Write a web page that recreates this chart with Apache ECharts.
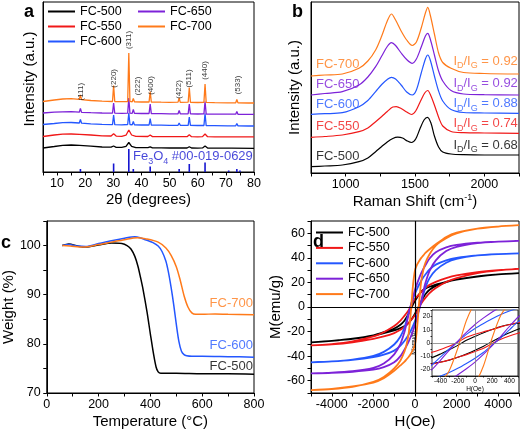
<!DOCTYPE html>
<html><head><meta charset="utf-8">
<script src="https://cdn.jsdelivr.net/npm/echarts@6/dist/echarts.min.js"></script>
<style>html,body{margin:0;padding:0;background:#fff}#c{width:522px;height:433px}</style>
</head><body><div id="c"></div>
<script>
// ---------- (a) XRD ----------
const xrdSharpX = [5, 9, 12, 15, 17.9, 18.3, 18.7, 22, 26, 29.7, 30.1, 30.5, 33, 35.1, 35.5, 35.9, 36.7, 37.1, 37.5, 40, 42.7, 43.1, 43.5, 47, 50, 53.0, 53.4, 53.8, 56.6, 57.0, 57.4, 60, 62.2, 62.6, 63.0, 66, 70.6, 71, 71.4, 73.5, 73.9, 74.3, 78, 80];
const xrd700 = [70.5, 72, 73, 73.3, 72.6, 77, 72.4, 71.5, 70.8, 70.5, 86.5, 70.5, 70.3, 70.5, 119, 70.6, 70.2, 73.5, 70.2, 70, 70, 80.5, 70, 69.8, 69.7, 69.8, 74, 69.7, 69.8, 84.5, 69.7, 69.5, 69.7, 88, 69.6, 69.3, 69.2, 71, 69.2, 69.2, 72.5, 69.1, 69, 69];
const xrd650 = [59, 59.8, 60.2, 60.3, 59.8, 63.5, 59.6, 59.3, 59, 58.8, 69, 58.8, 58.7, 58.9, 74, 58.9, 58.6, 62.5, 58.6, 58.5, 58.5, 68, 58.4, 58.3, 58.2, 58.2, 61.5, 58.2, 58.2, 68, 58.1, 58, 58.1, 70.5, 58, 57.9, 57.8, 59, 57.8, 57.8, 60.5, 57.7, 57.6, 57.6];
const xrd600 = [47.5, 48.5, 49.3, 49.5, 49, 52.5, 48.8, 48.2, 47.6, 47.4, 57, 47.4, 47.2, 47.5, 59, 47.5, 47.1, 50.5, 47.1, 47, 47, 53.5, 46.9, 46.8, 46.7, 46.7, 49, 46.7, 46.6, 55, 46.6, 46.5, 46.5, 58.5, 46.4, 46.3, 46.2, 47, 46.2, 46.2, 48.5, 46.1, 46, 46];
const xrdBroadX = [5, 9, 12, 15, 18, 22, 26, 29.2, 30.1, 31, 33, 34.5, 35.5, 36.5, 38, 42.3, 43.1, 43.9, 47, 50, 56.2, 57.0, 57.8, 60, 61.7, 62.6, 63.5, 66, 72, 80];
const xrd550 = [35.5, 37, 37.8, 38, 37.7, 37, 36.2, 36, 38.2, 35.9, 35.7, 36.8, 42, 37, 35.6, 35.5, 37, 35.4, 35.3, 35.3, 35.3, 37.2, 35.3, 35.2, 35.4, 38, 35.3, 35.2, 35.2, 35.2];
const xrd500 = [24, 25.5, 26.7, 27, 26.6, 25.8, 25, 24.8, 26, 24.7, 24.6, 25.7, 29.5, 25.7, 24.4, 24.3, 25.2, 24.2, 24.1, 24, 24, 25.3, 24, 23.9, 24.1, 26, 24, 23.9, 23.8, 23.7];
const refPos = [18.3, 30.1, 35.5, 37.1, 43.1, 53.4, 57.0, 62.6, 71.0, 73.9, 75.0];
const refInt = [3, 8.5, 23, 3, 5.5, 3, 8, 9.5, 1.5, 3, 1.5];
const hklNames = ['(111)', '(220)', '(311)', '(222)', '(400)', '(422)', '(511)', '(440)', '(533)'];
const hklX = [18.3, 30.1, 35.5, 38.7, 43.3, 53.1, 57.0, 62.4, 74.1];
const hklY = [80.3, 93.7, 132, 86, 86.5, 82.5, 93.5, 101.5, 87];

// ---------- (b) Raman ----------
const ramX500 = [750, 850, 976, 1096, 1160, 1216, 1260, 1300, 1340, 1375, 1410, 1445, 1475, 1505, 1535, 1565, 1590, 1615, 1640, 1670, 1700, 1760, 1850, 2000, 2250];
const ram500 = [6.3, 7, 8, 11.3, 15, 21.3, 26.5, 31, 34.5, 35.8, 35, 32, 30.5, 34, 44, 53, 55.7, 50, 37, 26, 21, 19, 18.3, 18, 18];
const ramX550 = [750, 850, 976, 1096, 1160, 1216, 1260, 1300, 1340, 1365, 1400, 1440, 1475, 1505, 1540, 1570, 1592, 1615, 1645, 1675, 1700, 1760, 1850, 2000, 2250];
const ram550 = [35.7, 36.5, 38, 41.3, 45, 51.3, 56.5, 61.5, 66, 66.3, 64.5, 61, 58.5, 62, 72, 80, 82.5, 77, 66, 54, 47, 41.5, 40.3, 40, 39.7];
const ramX = [750, 850, 976, 1096, 1160, 1216, 1260, 1300, 1330, 1360, 1400, 1440, 1480, 1510, 1545, 1575, 1592, 1610, 1640, 1670, 1700, 1760, 1850, 2000, 2250];
const ram600 = [58.7, 59.3, 60.3, 66.3, 72.5, 81.3, 88.5, 93.5, 95.7, 94, 88, 81, 78, 83, 100, 114, 118, 113, 97, 82, 72, 63.5, 60.5, 60, 59.7];
const ram650 = [78, 79.5, 81.3, 88, 96, 106.3, 117, 126.5, 130.3, 127.5, 120, 113.5, 109.7, 114, 126, 137, 139.7, 134, 118, 102, 92, 82.5, 79, 78.3, 78];
const ram700 = [97, 98, 99, 104.7, 112, 123, 137, 152, 159, 153, 142, 133, 127.5, 131, 145, 160, 165.7, 158, 139, 120, 110.5, 104.8, 100.5, 99.5, 99];
const ramanNames = ['FC-700', 'FC-650', 'FC-600', 'FC-550', 'FC-500'];
const ratios = ['0.92', '0.92', '0.88', '0.74', '0.68'];

// ---------- (c) TGA ----------
const tgaT500 = [60, 85, 120, 150, 200, 250, 290, 310, 325, 340, 352, 362, 372, 387, 400, 412, 422, 430, 440, 500, 600, 700, 800];
const tga500 = [100, 100.3, 99.9, 99.7, 100.1, 100.5, 100.4, 100, 99.3, 97.8, 95.8, 93.5, 91, 86.5, 82, 78, 75.3, 74.3, 74.0, 74, 73.9, 73.9, 73.8];
const tgaT600 = [60, 85, 120, 150, 200, 250, 300, 340, 360, 380, 410, 430, 445, 460, 470, 480, 490, 500, 510, 520, 530, 540, 560, 600, 700, 800];
const tga600 = [100, 100.2, 99.9, 99.8, 100.4, 101, 101.5, 101.8, 101.6, 101.2, 100.6, 99.9, 98.8, 96.8, 94.5, 91.5, 88, 84, 80.5, 78.5, 77.8, 77.6, 77.5, 77.5, 77.4, 77.3];
const tgaT700 = [60, 90, 140, 200, 250, 300, 350, 380, 430, 460, 480, 500, 515, 530, 545, 560, 575, 600, 650, 700, 800];
const tga700 = [100, 99.9, 99.7, 100.2, 100.7, 101.2, 101.6, 101.4, 100.7, 99.5, 98, 95.7, 93, 89.8, 87.5, 86.3, 86, 86, 86.1, 86, 85.9];
const tgaNames = ['FC-700', 'FC-600', 'FC-500'];

// ---------- (d) VSM ----------
const fieldH = [-5000, -4000, -3000, -2000, -1500, -1000, -700, -500, -400, -300, -200, -100, 0, 100, 200, 300, 400, 500, 700, 1000, 1500, 2000, 3000, 4000, 5000];
const up500 = [-28.8, -27.6, -25.8, -23, -20.5, -17.5, -14.5, -11, -8.3, -5.2, -1.8, 2, 5, 7.8, 10.3, 12.5, 14, 15, 16.5, 18.3, 20.5, 22.5, 25, 26.5, 27.5];
const lo500 = [-28.8, -27.6, -26, -23.3, -21.3, -19, -17.2, -15.5, -14.4, -13, -10.8, -8.3, -5.5, -2.4, 1.2, 4.6, 7.7, 10.4, 14, 17.2, 20.3, 22.3, 24.8, 26.5, 27.5];
const up550 = [-31.3, -30.2, -28, -24, -20.5, -15.5, -11, -7, -4.9, -2.5, 0.6, 4.3, 6.7, 8.5, 10.2, 12.2, 14, 15.5, 18, 20.5, 23.5, 25.7, 28.4, 30, 31];
const lo550 = [-31.3, -30.5, -28.8, -26, -24, -21.2, -18.6, -16, -14.6, -12.8, -10.8, -8.8, -6.5, -4, -0.4, 2.8, 5.3, 7.4, 11.3, 15.5, 20.3, 23.5, 27.5, 29.8, 31];
const up600 = [-45, -44.3, -42.8, -39.8, -36.5, -30.5, -24, -16.5, -10.5, -4.5, 1, 6.5, 11, 14.8, 18.3, 21.5, 24.2, 26.5, 30.5, 34.5, 38, 40, 42, 43.1, 43.7];
const lo600 = [-45, -44.3, -43, -40.8, -38.8, -35.5, -31.5, -27.5, -25, -22.3, -19.2, -15.5, -11.5, -7, -1.5, 4, 10, 16, 23.5, 30, 36, 39.2, 42, 43.1, 43.7];
const up650 = [-54, -53.5, -52.3, -49.5, -46, -38.5, -30, -20, -13, -5.5, 1.5, 8, 14, 19, 23.5, 27.5, 31, 34, 39.5, 44.5, 48.5, 50.5, 52.3, 53.2, 53.8];
const lo650 = [-54, -53.5, -52.7, -51, -49, -45, -40, -34.5, -31.5, -28, -24, -19.5, -14.5, -8.5, -2, 5, 12.5, 19.5, 29.5, 38, 45.5, 49, 52, 53.2, 53.8];
const up700 = [-67.6, -66.8, -65, -61, -57, -50, -43.5, -36, -30, -21, -4, 17, 30, 34.5, 37.5, 40, 42, 44, 47, 51, 57, 60.5, 63.8, 65.5, 66.6];
const lo700 = [-67.6, -66.6, -64.6, -61.5, -58, -52, -47.5, -44.5, -42.5, -40.5, -38, -35, -30.5, -17, 4, 21, 30, 36, 43, 50, 56, 60, 63.8, 65.5, 66.6];

// ---------- styling ----------
const FONT = '"Liberation Sans", Arial, Helvetica, sans-serif';
const COL = {'FC-500': '#000000', 'FC-550': '#f01818', 'FC-600': '#2457ff', 'FC-650': '#7d22d8', 'FC-700': '#ff7a1a'};
const REFCOL = '#1616d0';

function pairs(xs, ys) { return xs.map((x, i) => [x, ys[i]]); }
function lineS(name, data, gi, width, smooth, extra) {
  return Object.assign({
    type: 'line', name, xAxisIndex: gi, yAxisIndex: gi, data,
    showSymbol: false, symbol: 'none', color: COL[name],
    lineStyle: {color: COL[name], width}, smooth: smooth || false,
    silent: true, emphasis: {disabled: true}
  }, extra || {});
}
function loop(lo, up) {
  const a = pairs(fieldH, lo);
  const b = pairs(fieldH, up).reverse();
  return a.concat(b);
}
function txtS(gi, items, pos, fontSize, rich) {
  return {
    type: 'scatter', xAxisIndex: gi, yAxisIndex: gi, symbolSize: 0.1, silent: true,
    itemStyle: {color: 'transparent'}, emphasis: {disabled: true}, z: 5,
    data: items,
    label: {show: true, position: pos, distance: 0, fontFamily: FONT, fontSize, formatter: p => p.name, rich: rich || {}}
  };
}
function xAx(gi, min, max, interval, fmt, name, gap, extra) {
  return Object.assign({
    gridIndex: gi, type: 'value', min, max, interval,
    axisLine: {show: true, onZero: false, lineStyle: {color: '#000', width: 1}},
    axisTick: {show: true, length: 3.5, lineStyle: {color: '#000'}},
    axisLabel: {formatter: fmt, fontSize: 12.5, color: '#000', fontFamily: FONT, margin: 5},
    splitLine: {show: false},
    name, nameLocation: 'middle', nameGap: gap,
    nameTextStyle: {fontSize: 15, color: '#000', fontFamily: FONT}
  }, extra || {});
}
function yAx(gi, min, max, interval, fmt, name, gap, showTicks, extra) {
  return Object.assign({
    gridIndex: gi, type: 'value', min, max, interval,
    axisLine: {show: true, onZero: false, lineStyle: {color: '#000', width: 1}},
    axisTick: {show: showTicks, length: 3.5, lineStyle: {color: '#000'}},
    axisLabel: {show: showTicks, formatter: fmt, fontSize: 12.5, color: '#000', fontFamily: FONT, margin: 6},
    splitLine: {show: false},
    name, nameLocation: 'middle', nameGap: gap,
    nameTextStyle: {fontSize: 15, color: '#000', fontFamily: FONT}
  }, extra || {});
}
const gridBase = {show: true, borderColor: '#000', borderWidth: 1, backgroundColor: '#fff'};

const series = [];
// (a)
series.push({type: 'bar', name: 'ref', xAxisIndex: 0, yAxisIndex: 0, data: pairs(refPos, refInt), barWidth: 1.6, itemStyle: {color: REFCOL}, silent: true});
series.push(lineS('FC-500', pairs(xrdBroadX, xrd500), 0, 1.3));
series.push(lineS('FC-550', pairs(xrdBroadX, xrd550), 0, 1.3));
series.push(lineS('FC-600', pairs(xrdSharpX, xrd600), 0, 1.3));
series.push(lineS('FC-650', pairs(xrdSharpX, xrd650), 0, 1.3));
series.push(lineS('FC-700', pairs(xrdSharpX, xrd700), 0, 1.3));
series.push(txtS(0, hklNames.map((n, i) => ({name: n, value: [hklX[i], hklY[i]]})), 'inside', 8));
series[series.length - 1].label.rotate = 90;
series[series.length - 1].label.color = '#000';
series.push(txtS(0, [{name: 'Fe{s|3}O{s|4} #00-019-0629', value: [79.6, 15.3]}], 'left', 13,
  {s: {fontSize: 9, verticalAlign: 'bottom', lineHeight: 18, color: REFCOL, fontFamily: FONT}}));
series[series.length - 1].label.color = REFCOL;
series[series.length - 1].label.lineHeight = 16;

// (b)
series.push(lineS('FC-500', pairs(ramX500, ram500), 1, 1.2, 0.3));
series.push(lineS('FC-550', pairs(ramX550, ram550), 1, 1.2, 0.3));
series.push(lineS('FC-600', pairs(ramX, ram600), 1, 1.2, 0.3));
series.push(lineS('FC-650', pairs(ramX, ram650), 1, 1.2, 0.3));
series.push(lineS('FC-700', pairs(ramX, ram700), 1, 1.2, 0.3));
const ramLeftY = [108.7, 88.7, 68.7, 46.3, 17];
const ramRightY = [112, 89.7, 69.7, 49.7, 28];
series.push(txtS(1, ramanNames.map((n, i) => ({name: n, value: [786, ramLeftY[i]], label: {color: COL[n]}})), 'right', 13));
series.push(txtS(1, ramanNames.map((n, i) => ({
  name: 'I{s|D}/I{s|G} = ' + ratios[i], value: [2242, ramRightY[i]],
  label: {color: COL[n], rich: {s: {fontSize: 9, verticalAlign: 'bottom', lineHeight: 19, color: COL[n], fontFamily: FONT}}}
})), 'left', 13));
series[series.length - 1].label.lineHeight = 16;

// (c)
series.push(lineS('FC-500', pairs(tgaT500, tga500), 2, 1.5, 0.3));
series.push(lineS('FC-600', pairs(tgaT600, tga600), 2, 1.5, 0.3));
series.push(lineS('FC-700', pairs(tgaT700, tga700), 2, 1.5, 0.3));
const tgaLabY = [88.3, 79.7, 75.5];
series.push(txtS(2, tgaNames.map((n, i) => ({name: n, value: [796, tgaLabY[i]], label: {color: COL[n]}})), 'left', 13));

// (d)
const loops = [['FC-500', lo500, up500], ['FC-550', lo550, up550], ['FC-600', lo600, up600], ['FC-650', lo650, up650], ['FC-700', lo700, up700]];
loops.forEach((L, k) => {
  const extra = k === 0 ? {markLine: {silent: true, symbol: ['none', 'none'], label: {show: false}, lineStyle: {color: '#000', width: 1.2, type: 'solid'}, data: [{xAxis: 0}, {yAxis: 0}]}} : {};
  series.push(lineS(L[0], loop(L[1], L[2]), 3, 1.8, 0.25, extra));
});
loops.forEach((L, k) => {
  const extra = k === 0 ? {markLine: {silent: true, symbol: ['none', 'none'], label: {show: false}, lineStyle: {color: '#808080', width: 0.8, type: 'solid'}, data: [{xAxis: 0}, {yAxis: 0}]}} : {};
  series.push(lineS(L[0], loop(L[1], L[2]), 4, 1.1, 0.25, extra));
});

const legText = {fontSize: 12.5, color: '#000', fontFamily: FONT, lineHeight: 14};
const legBase = {orient: 'vertical', icon: 'rect', itemWidth: 27, itemHeight: 2, selectedMode: false, textStyle: legText, padding: 0};

const option = {
  animation: false,
  backgroundColor: '#fff',
  grid: [
    Object.assign({left: 43, top: 2, width: 211, height: 170}, gridBase),
    Object.assign({left: 311, top: 2, width: 209, height: 171}, gridBase),
    Object.assign({left: 43, top: 221, width: 211, height: 172}, gridBase),
    Object.assign({left: 311, top: 221, width: 209, height: 172}, gridBase),
    Object.assign({left: 432, top: 310, width: 86, height: 66, z: 3}, gridBase, {borderWidth: 0.8})
  ],
  xAxis: [
    xAx(0, 5, 80, 5, v => (v % 10 === 0 ? String(v) : ''), '2θ (degrees)', 20),
    xAx(1, 750, 2250, 250, v => (v % 500 === 0 && v >= 1000 && v <= 2000 ? String(v) : ''), 'Raman Shift (cm{sup|-1})', 20,
      {nameTextStyle: {fontSize: 15, color: '#000', fontFamily: FONT, lineHeight: 18, rich: {sup: {fontSize: 9, verticalAlign: 'top', lineHeight: 18, fontFamily: FONT, color: '#000'}}}}),
    xAx(2, 0, 800, 100, v => (v % 200 === 0 ? String(v) : ''), 'Temperature (°C)', 21),
    xAx(3, -5000, 5000, 1000, v => (v % 2000 === 0 ? String(v) : ''), 'H(Oe)', 21),
    xAx(4, -500, 500, 100, v => (v % 200 === 0 ? String(v) : ''), 'H(Oe)', 7,
      {axisTick: {show: true, length: 1.5, lineStyle: {color: '#000', width: 0.8}},
       axisLine: {show: true, onZero: false, lineStyle: {color: '#000', width: 0.8}},
       axisLabel: {formatter: v => (v % 200 === 0 ? String(v) : ''), fontSize: 6.5, color: '#000', fontFamily: FONT, margin: 2},
       nameTextStyle: {fontSize: 6.5, color: '#000', fontFamily: FONT}})
  ],
  yAxis: [
    yAx(0, 0, 170, 10, null, 'Intensity (a.u.)', 6, false, {nameTextStyle: {fontSize: 15, color: '#000', fontFamily: FONT, padding: [0, 0, 0, 16]}}),
    yAx(1, 0, 171, 10, null, 'Intensity (a.u.)', 9, false),
    yAx(2, 70, 105, 5, v => (v % 10 === 0 ? String(v) : ''), 'Weight (%)', 26, true),
    yAx(3, -70, 70, 10, v => (v % 20 === 0 ? String(v) : ''), 'M(emu/g)', 28, true),
    yAx(4, -25, 25, 5, v => (v % 10 === 0 ? String(v) : ''), 'M(emu/g)', 12, true,
      {axisTick: {show: true, length: 1.5, lineStyle: {color: '#000', width: 0.8}},
       axisLine: {show: true, onZero: false, lineStyle: {color: '#000', width: 0.8}},
       axisLabel: {formatter: v => (v % 10 === 0 ? String(v) : ''), fontSize: 6.5, color: '#000', fontFamily: FONT, margin: 2},
       nameTextStyle: {fontSize: 5.5, color: '#000', fontFamily: FONT}})
  ],
  legend: [
    Object.assign({data: ['FC-500', 'FC-550', 'FC-600'], left: 48, top: 4.5, itemGap: 1}, legBase),
    Object.assign({data: ['FC-650', 'FC-700'], left: 138, top: 4.5, itemGap: 1}, legBase),
    Object.assign({data: ['FC-500', 'FC-550', 'FC-600', 'FC-650', 'FC-700'], left: 316, top: 225.5, itemGap: 1.4, itemHeight: 2.4}, legBase)
  ],
  graphic: [
    {type: 'text', left: 24, top: 3, style: {text: 'a', font: 'bold 18px ' + FONT, fill: '#000'}},
    {type: 'text', left: 292, top: 3, style: {text: 'b', font: 'bold 18px ' + FONT, fill: '#000'}},
    {type: 'text', left: 1, top: 234, style: {text: 'c', font: 'bold 18px ' + FONT, fill: '#000'}},
    {type: 'text', left: 313, top: 233, style: {text: 'd', font: 'bold 18px ' + FONT, fill: '#000'}}
  ],
  series
};
const chart = echarts.init(document.getElementById('c'), null, {renderer: 'canvas'});
chart.setOption(option);
</script></body></html>
